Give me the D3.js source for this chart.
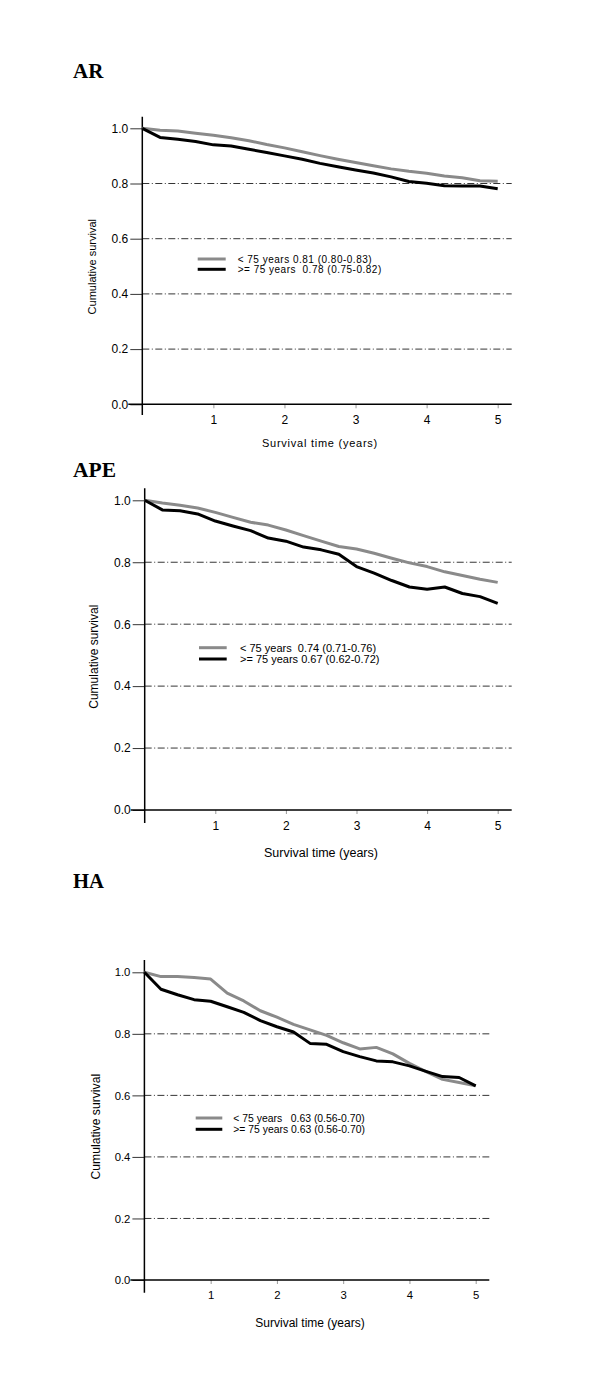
<!DOCTYPE html>
<html><head><meta charset="utf-8">
<script src="https://cdn.jsdelivr.net/npm/d3@7"></script>
<style>body{margin:0;background:#fff}svg{display:block}</style>
</head><body>
<script>
const times = [0,0.25,0.5,0.75,1,1.25,1.5,1.75,2,2.25,2.5,2.75,3,3.25,3.5,3.75,4,4.25,4.5,4.75,5];
const yTicks = [0.0,0.2,0.4,0.6,0.8,1.0];
const gridValues = [0.2,0.4,0.6,0.8];
const xTicks = [1,2,3,4,5];
const panelTitles = ["AR","APE","HA"];

const arUnder75 = [1.0,0.993,0.990,0.982,0.975,0.966,0.955,0.941,0.929,0.915,0.901,0.888,0.876,0.864,0.853,0.844,0.837,0.827,0.821,0.810,0.808];
const arOver75  = [1.0,0.967,0.960,0.952,0.940,0.936,0.924,0.912,0.900,0.888,0.873,0.861,0.849,0.838,0.824,0.807,0.801,0.792,0.791,0.791,0.781];
const apeUnder75 = [1.0,0.991,0.984,0.975,0.961,0.945,0.929,0.920,0.904,0.886,0.868,0.851,0.843,0.829,0.813,0.798,0.786,0.769,0.757,0.745,0.735];
const apeOver75  = [1.0,0.969,0.966,0.956,0.933,0.917,0.902,0.878,0.868,0.849,0.840,0.826,0.786,0.765,0.741,0.720,0.713,0.720,0.699,0.689,0.667];
const haUnder75 = [1.0,0.986,0.986,0.983,0.978,0.932,0.907,0.875,0.854,0.831,0.813,0.795,0.771,0.751,0.756,0.735,0.704,0.677,0.652,0.642,0.631];
const haOver75  = [1.0,0.945,0.927,0.911,0.906,0.888,0.870,0.843,0.823,0.806,0.769,0.766,0.742,0.726,0.712,0.709,0.696,0.678,0.661,0.658,0.631];

const arLegend = ["< 75 years 0.81 (0.80-0.83)", ">= 75 years  0.78 (0.75-0.82)"];
const apeLegend = ["< 75 years  0.74 (0.71-0.76)", ">= 75 years 0.67 (0.62-0.72)"];
const haLegend = ["< 75 years   0.63 (0.56-0.70)", ">= 75 years 0.63 (0.56-0.70)"];

const panels = [
  {title: panelTitles[0], series:[arUnder75, arOver75], legend: arLegend,
   titleY:78.3, titleSize:21, ax:142.3, xEnd:497.7, y0:404.3, y1:128.3, axTop:116.7, axBot:415, right:511.7,
   xTitleX:320, xTitleY:447, yTitleX:91.7, yTitleY:266.7, tickSize:12, titleFs:11, titleLs:0.75, yTitleFs:11,
   legX1:197.7, legX2:225.7, legTX:237.7, legY:[259,269.3], legFs:10, legLs:0.5},
  {title: panelTitles[1], series:[apeUnder75, apeOver75], legend: apeLegend,
   titleY:476.7, titleSize:21.5, ax:144.7, xEnd:497.7, y0:810, y1:500.3, axTop:488.3, axBot:823, right:511.7,
   xTitleX:321, xTitleY:857, yTitleX:93.3, yTitleY:656.7, tickSize:12, titleFs:12.5, titleLs:0, yTitleFs:12,
   legX1:199, legX2:226.7, legTX:240, legY:[647.7,659], legFs:11, legLs:0},
  {title: panelTitles[2], series:[haUnder75, haOver75], legend: haLegend,
   titleY:888.3, titleSize:20.7, ax:144.4, xEnd:475.7, y0:1280, y1:972.3, axTop:960, axBot:1292.7, right:489.3,
   xTitleX:310, xTitleY:1327, yTitleX:96, yTitleY:1126.7, tickSize:11.3, titleFs:12, titleLs:0, yTitleFs:12.2,
   legX1:195.7, legX2:222.3, legTX:233.3, legY:[1118,1129.3], legFs:10.4, legLs:0}
];
const colors = ["#8a8a8a","#000000"];

const svg = d3.select("body").append("svg").attr("width",600).attr("height",1394);
const sans = "Liberation Sans, Arial, Helvetica, sans-serif";

panels.forEach(p => {
  const g = svg.append("g");
  const x = d3.scaleLinear().domain([0,5]).range([p.ax, p.xEnd]);
  const y = d3.scaleLinear().domain([0,1]).range([p.y0, p.y1]);

  g.append("text").attr("x",73).attr("y",p.titleY)
    .attr("font-family","Liberation Serif, Times New Roman, serif").attr("font-weight","bold")
    .attr("font-size",p.titleSize).text(p.title);

  g.selectAll(".grid").data(gridValues).enter().append("line")
    .attr("x1",p.ax).attr("x2",p.right).attr("y1",d=>y(d)).attr("y2",d=>y(d))
    .attr("stroke","#000").attr("stroke-width",0.8).attr("stroke-dasharray","7,2.5,1,2.5");

  const yAxis = d3.axisLeft(y).tickValues(yTicks).tickFormat(d3.format(".1f")).tickSize(12).tickPadding(2);
  const ya = g.append("g").attr("transform",`translate(${p.ax},0)`).call(yAxis);
  ya.select(".domain").remove();
  ya.selectAll(".tick line").attr("stroke","#000").attr("stroke-width",0.8);
  ya.selectAll(".tick text").attr("font-family",sans).attr("font-size",p.tickSize).attr("fill","#000");

  const xAxis = d3.axisBottom(x).tickValues(xTicks).tickFormat(d3.format("d")).tickSize(4).tickPadding(7);
  const xa = g.append("g").attr("transform",`translate(0,${p.y0})`).call(xAxis);
  xa.select(".domain").remove();
  xa.selectAll(".tick line").attr("stroke","#999").attr("stroke-width",1);
  xa.selectAll(".tick text").attr("font-family",sans).attr("font-size",p.tickSize).attr("fill","#000");

  g.append("line").attr("x1",p.ax-14).attr("x2",p.right).attr("y1",p.y0).attr("y2",p.y0)
    .attr("stroke","#000").attr("stroke-width",1.5);
  g.append("line").attr("x1",p.ax).attr("x2",p.ax).attr("y1",p.axTop).attr("y2",p.axBot)
    .attr("stroke","#000").attr("stroke-width",1.5);

  g.append("text").attr("x",p.xTitleX).attr("y",p.xTitleY).attr("text-anchor","middle")
    .attr("font-family",sans).attr("font-size",p.titleFs).attr("letter-spacing",p.titleLs)
    .text("Survival time (years)");
  g.append("text").attr("transform",`translate(${p.yTitleX + p.yTitleFs*0.35},${p.yTitleY}) rotate(-90)`)
    .attr("text-anchor","middle").attr("font-family",sans).attr("font-size",p.yTitleFs)
    .text("Cumulative survival");

  const line = d3.line().x((d,i)=>x(times[i])).y(d=>y(d));
  p.series.forEach((s,k) => {
    g.append("path").datum(s).attr("d",line).attr("fill","none")
      .attr("stroke",colors[k]).attr("stroke-width",3).attr("stroke-linejoin","round");
  });

  p.legend.forEach((t,k) => {
    g.append("line").attr("x1",p.legX1).attr("x2",p.legX2).attr("y1",p.legY[k]).attr("y2",p.legY[k])
      .attr("stroke",colors[k]).attr("stroke-width",3);
    g.append("text").attr("x",p.legTX).attr("y",p.legY[k]).attr("dy","0.35em")
      .attr("font-family",sans).attr("font-size",p.legFs).attr("letter-spacing",p.legLs)
      .style("white-space","pre").text(t);
  });
});
</script>
</body></html>
